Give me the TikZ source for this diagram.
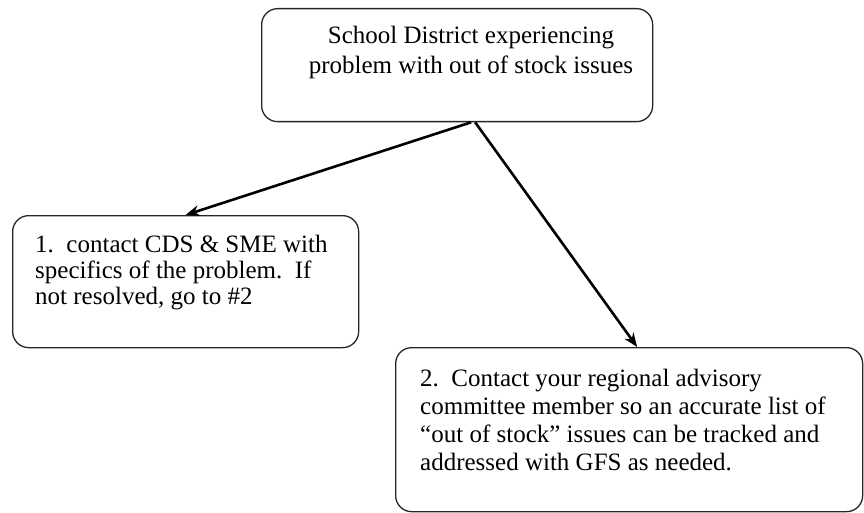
\documentclass[tikz,border=0pt]{standalone}
\usepackage{fontspec}
\setmainfont{Liberation Serif}
\usetikzlibrary{arrows.meta}
\tikzset{
  box/.style={draw=black!85, line width=1.3pt, rounded corners=16pt, inner sep=0pt, fill=white},
  txt/.style={inner sep=0pt},
  flow/.style={line width=2.6pt, -{Stealth[length=14pt,width=11pt]}}
}
\begin{document}
\begin{tikzpicture}[x=1pt,y=1pt]
\useasboundingbox[fill=white] (0,0) rectangle (864,-513);
\node[box, minimum width=391pt, minimum height=113pt, anchor=north west] (top) at (261,-8) {};
\node[box, minimum width=346pt, minimum height=132pt, anchor=north west] (lb) at (12,-215) {};
\node[box, minimum width=467pt, minimum height=164pt, anchor=north west] (rb) at (395,-347) {};
\node[txt, font=\fontsize{25}{30}\selectfont, align=center, anchor=north] (toptxt) at (471,-26) {School District experiencing\\problem with out of stock issues};
\node[txt, font=\fontsize{25}{26}\selectfont, align=left, anchor=north west] (lbtxt) at (35,-235) {1.\ \ contact CDS \& SME with\\specifics of the problem.\ \ If\\not resolved, go to \#2};
\node[txt, font=\fontsize{25}{28}\selectfont, align=left, anchor=north west] (rbtxt) at (420,-369) {2.\ \ Contact your regional advisory\\committee member so an accurate list of\\“out of stock” issues can be tracked and\\addressed with GFS as needed.};
\coordinate (s1) at ([xshift=14pt]top.south);
\coordinate (s2) at ([xshift=18pt]top.south);
\draw[flow] (s1) -- (lb.north);
\draw[flow] (s2) -- ([xshift=8pt]rb.north);
\end{tikzpicture}
\end{document}
